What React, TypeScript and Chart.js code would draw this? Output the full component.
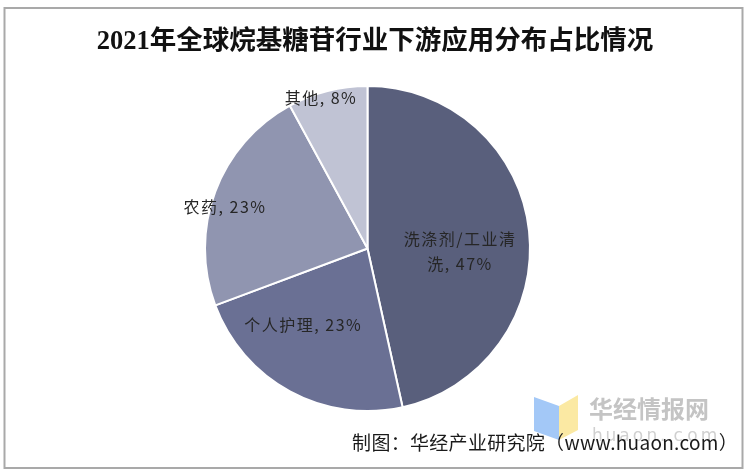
import React, { useEffect, useRef } from "react";
import { Chart, registerables } from "chart.js";

Chart.register(...registerables);

const titleText = "2021年全球烷基糖苷行业下游应用分布占比情况";
const categories = ["洗涤剂/工业清洗", "个人护理", "农药", "其他"];
const labelLines = [["洗涤剂/工业清", "洗, 47%"], ["个人护理, 23%"], ["农药, 23%"], ["其他, 8%"]];
const shares = [47, 23, 23, 8];
const sliceColors = ["#595f7c", "#6a7094", "#9095b0", "#c0c3d4"];
const sourceText = "制图：华经产业研究院（www.huaon.com）";
const watermarkText = "华经情报网";
const watermarkUrl = "huaon.com";
// label placement: radial fraction of radius, angular shift (deg) from slice middle
const labelPlacement = [
  { r: 0.57, shift: 8 },
  { r: 0.615, shift: 11.5 },
  { r: 0.913, shift: -4.3 },
  { r: 0.97, shift: -2.9 },
];

const decorPlugin = {
  id: "decor",
  beforeDraw(chart: any) {
    const ctx = chart.ctx;
    ctx.save();
    ctx.fillStyle = "#ffffff";
    ctx.fillRect(0, 0, chart.width, chart.height);
    ctx.strokeStyle = "#a9a9a9";
    ctx.lineWidth = 2;
    ctx.strokeRect(4.5, 8, 738, 460);
    // title
    ctx.fillStyle = "#111111";
    ctx.font = 'bold 26.5px "Liberation Serif", "Noto Sans CJK SC", serif';
    ctx.textAlign = "center";
    ctx.textBaseline = "middle";
    ctx.fillText(titleText, 375, 42);
    // watermark logo
    ctx.fillStyle = "#a3c8f7";
    ctx.beginPath();
    ctx.moveTo(534, 397);
    ctx.lineTo(559, 406);
    ctx.lineTo(559, 440);
    ctx.lineTo(534, 431);
    ctx.closePath();
    ctx.fill();
    ctx.fillStyle = "#fbe9a3";
    ctx.beginPath();
    ctx.moveTo(559, 406);
    ctx.lineTo(578, 395);
    ctx.lineTo(578, 430);
    ctx.lineTo(559, 440);
    ctx.closePath();
    ctx.fill();
    ctx.fillStyle = "#c4c4c4";
    ctx.font = 'bold 24px "Noto Sans CJK SC", sans-serif';
    ctx.textAlign = "left";
    ctx.fillText(watermarkText, 589, 409);
    ctx.fillStyle = "#d0d0d0";
    ctx.font = '17px "DejaVu Sans", sans-serif';
    const chars = watermarkUrl.split("");
    let x = 592;
    for (const c of chars) {
      ctx.fillText(c, x, 437);
      x += 13.6;
    }
    ctx.restore();
  },
  afterDatasetsDraw(chart: any) {
    const ctx = chart.ctx;
    const meta = chart.getDatasetMeta(0);
    ctx.save();
    ctx.fillStyle = "#262626";
    ctx.font = '16px "Noto Sans CJK SC", "Liberation Sans", sans-serif';
    (ctx as any).letterSpacing = "1.5px";
    ctx.textAlign = "center";
    ctx.textBaseline = "middle";
    meta.data.forEach((arc: any, i: number) => {
      const p = labelPlacement[i];
      const mid = (arc.startAngle + arc.endAngle) / 2 + (p.shift * Math.PI) / 180;
      const cx = arc.x + Math.cos(mid) * arc.outerRadius * p.r;
      const cy = arc.y + Math.sin(mid) * arc.outerRadius * p.r;
      const lines = labelLines[i];
      const lh = 25;
      lines.forEach((ln, k) => {
        ctx.fillText(ln, cx, cy + (k - (lines.length - 1) / 2) * lh);
      });
    });
    // source
    ctx.fillStyle = "#1a1a1a";
    ctx.font = '19px "Noto Sans CJK SC", sans-serif';
    (ctx as any).letterSpacing = "0.3px";
    ctx.textAlign = "right";
    ctx.fillText(sourceText, 738, 443);
    ctx.restore();
  },
};

export default function App() {
  const ref = useRef<HTMLCanvasElement | null>(null);
  useEffect(() => {
    document.body.style.margin = "0";
    const chart = new Chart(ref.current as HTMLCanvasElement, {
      type: "pie",
      data: {
        labels: categories,
        datasets: [
          {
            data: shares,
            backgroundColor: sliceColors,
            borderColor: "#ffffff",
            borderWidth: 2,
          },
        ],
      },
      options: {
        animation: false,
        responsive: false,
        devicePixelRatio: 1,
        layout: { padding: { left: 204, right: 219, top: 85, bottom: 62 } },
        plugins: {
          legend: { display: false },
          tooltip: { enabled: false },
          title: { display: false },
        },
      },
      plugins: [decorPlugin],
    });
    return () => chart.destroy();
  }, []);
  return (
    <div style={{ width: 750, height: 474 }}>
      <canvas ref={ref} width={750} height={474} style={{ width: 750, height: 474, display: "block" }} />
    </div>
  );
}
